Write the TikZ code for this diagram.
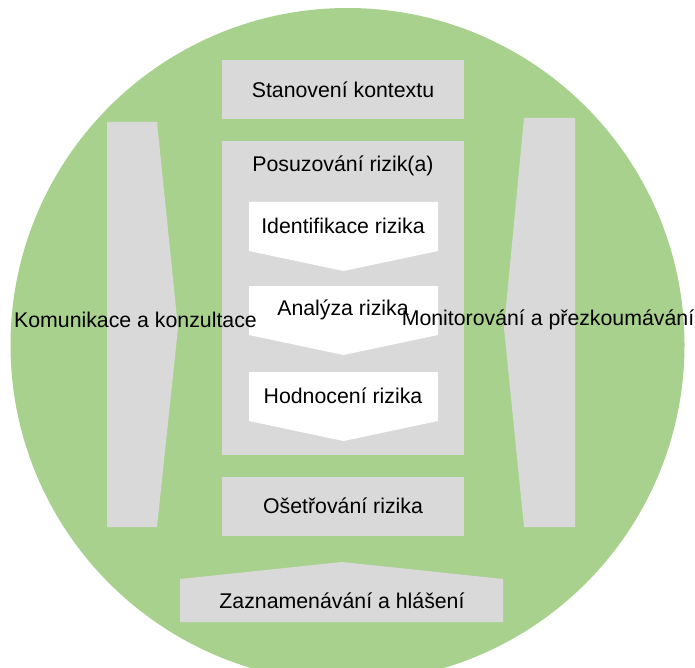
\documentclass[tikz,border=0pt]{standalone}
\usepackage{fontspec}
\setmainfont{Liberation Sans}
\definecolor{kruh}{HTML}{A9D18E}
\definecolor{seda}{HTML}{D9D9D9}
\tikzset{popis/.style={font=\fontsize{21.3}{25}\selectfont, inner sep=0pt}}

\begin{document}
\begin{tikzpicture}[x=1pt, y=-1pt]
			%%%%% START %%%%%
			\useasboundingbox (0, 0) rectangle (695, 668);
			\clip (0, 0) rectangle (695, 668);
			
			\fill[kruh] (347.5, 345) circle (337);
			
			% horni a dolni obdelniky
			\fill[seda] (222, 60) rectangle (464, 119);
			\fill[seda] (222, 141) rectangle (464, 455);
			\fill[seda] (222, 477) rectangle (464, 536);
			
			% bocni sipky
			\fill[seda] (107, 122) -- (157, 122) -- (178, 328) -- (157, 527) -- (107, 527) -- cycle;
			\fill[seda] (575, 118) -- (524, 118) -- (504, 328) -- (524, 527) -- (575, 527) -- cycle;
			
			% bile sipky dolu
			\fill[white] (249, 202) -- (438, 202) -- (438, 251) -- (343.5, 271) -- (249, 251) -- cycle;
			\fill[white] (249, 286) -- (438, 286) -- (438, 335) -- (343.5, 355) -- (249, 335) -- cycle;
			\fill[white] (249, 372) -- (438, 372) -- (438, 421) -- (343.5, 441) -- (249, 421) -- cycle;
			
			% spodni
			\fill[seda] (180, 579) -- (342, 562) -- (503, 579) -- (503, 622) -- (180, 622) -- cycle;
			
			\node[popis] (kontext) at (343, 90) {Stanovení kontextu};
			\node[popis] (posuz) at (343, 166) {Posuzování rizik(a)};
			\node[popis] (ident) at (343, 226) {Identifikace rizika};
			\node[popis] (anal) at (343, 310) {Analýza rizika};
			\node[popis] (hodn) at (343, 396) {Hodnocení rizika};
			\node[popis] (oset) at (343, 506) {Ošetřování rizika};
			\node[popis] (zazn) at (342, 601) {Zaznamenávání a hlášení};
			\node[popis] (komun) at (135.5, 320) {Komunikace a konzultace};
			\node[popis] (monit) at (548, 320) {Monitorování a přezkoumávání};
			
			%%%%% END %%%%%
\end{tikzpicture}
\end{document}
